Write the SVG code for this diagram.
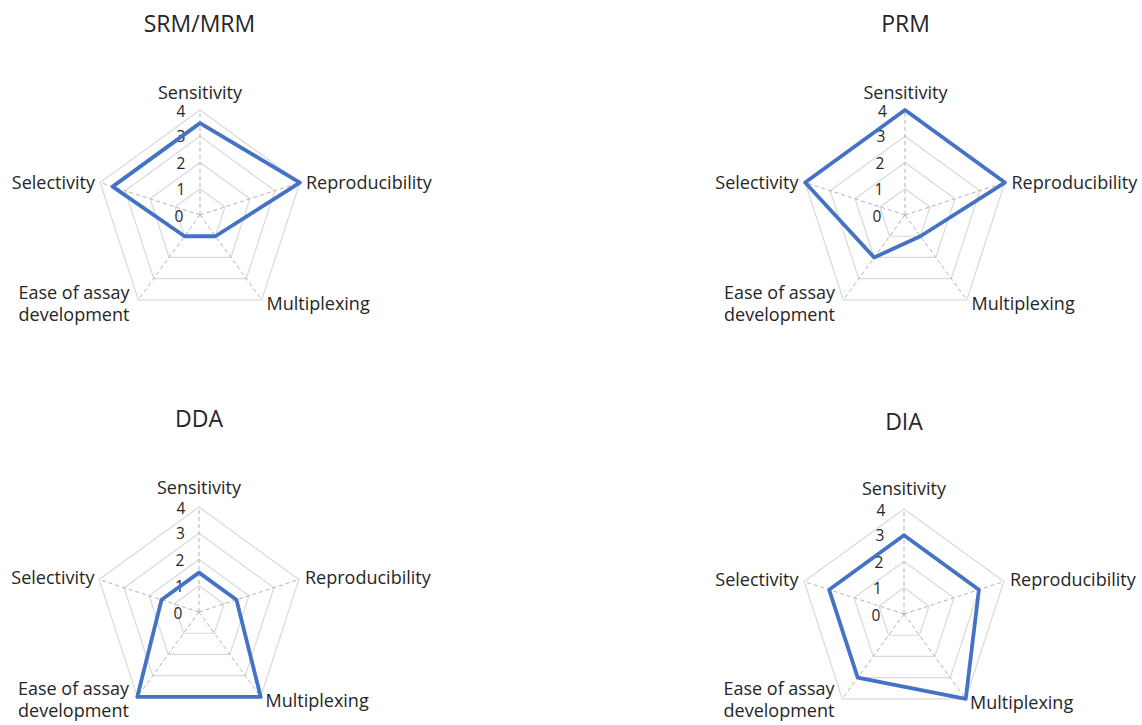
<svg xmlns="http://www.w3.org/2000/svg" xmlns:xlink="http://www.w3.org/1999/xlink" width="1142" height="725" viewBox="0 0 1142 725">
<style>
text { font-family: "Open Sans", "Liberation Sans", sans-serif; fill: #262626; }
.title { font-size: 23px; text-anchor: middle; }
.lab { font-size: 18px; }
.mid { text-anchor: middle; }
.end { text-anchor: end; }
.tick { font-size: 15.5px; text-anchor: middle; }
.ring { fill: none; stroke: #d9d9d9; stroke-width: 1.2; }
.spoke { fill: none; stroke: #b3b3b3; stroke-width: 1; stroke-dasharray: 4 3; }
.data { fill: none; stroke: #4472C4; stroke-width: 3.8; stroke-linejoin: round; }
</style>
<defs>
<g id="grid">
<polygon class="ring" points="0,-105 99.86,-32.45 61.72,84.95 -61.72,84.95 -99.86,-32.45"/>
<polygon class="ring" points="0,-78.75 74.9,-24.33 46.29,63.71 -46.29,63.71 -74.9,-24.33"/>
<polygon class="ring" points="0,-52.5 49.93,-16.22 30.86,42.47 -30.86,42.47 -49.93,-16.22"/>
<polygon class="ring" points="0,-26.25 24.97,-8.11 15.43,21.24 -15.43,21.24 -24.97,-8.11"/>
<path class="spoke" d="M0,0V-105M0,0L99.86,-32.45M0,0L61.72,84.95M0,0L-61.72,84.95M0,0L-99.86,-32.45"/>
</g>
</defs>
<rect width="1142" height="725" fill="#ffffff"/>

<g id="chart-srm-mrm">
<text class="title" x="199.5" y="31.7">SRM/MRM</text>
<use xlink:href="#grid" href="#grid" x="200" y="215"/>
<g class="ticks">
<text class="tick" x="181" y="116.5">4</text>
<text class="tick" x="181" y="142.3">3</text>
<text class="tick" x="181" y="168.5">2</text>
<text class="tick" x="181" y="194.8">1</text>
<text class="tick" x="179" y="221.5">0</text>
</g>
<polygon class="data" points="200,123.1 299.86,182.55 215.43,236.24 184.57,236.24 112.62,186.61"/>
<text class="lab mid" x="200" y="99">Sensitivity</text>
<text class="lab" x="306" y="188.5">Reproducibility</text>
<text class="lab end" x="95" y="188.5">Selectivity</text>
<text class="lab" x="266.5" y="310">Multiplexing</text>
<text class="lab mid" x="74" y="298.5">Ease of assay</text>
<text class="lab mid" x="74" y="320.5">development</text>
</g>

<g id="chart-prm">
<text class="title" x="905.5" y="31.7">PRM</text>
<use xlink:href="#grid" href="#grid" x="905" y="215"/>
<g class="ticks">
<text class="tick" x="882.5" y="116.5">4</text>
<text class="tick" x="881" y="142.3">3</text>
<text class="tick" x="880" y="168.5">2</text>
<text class="tick" x="879" y="194.8">1</text>
<text class="tick" x="877" y="221.5">0</text>
</g>
<polygon class="data" points="905,110 1004.86,182.55 920.43,236.24 874.14,257.47 805.14,182.55"/>
<text class="lab mid" x="905.5" y="99">Sensitivity</text>
<text class="lab" x="1011.5" y="188.5">Reproducibility</text>
<text class="lab end" x="798.5" y="188.5">Selectivity</text>
<text class="lab" x="971.5" y="310">Multiplexing</text>
<text class="lab mid" x="779.5" y="298.5">Ease of assay</text>
<text class="lab mid" x="779.5" y="320.5">development</text>
</g>

<g id="chart-dda">
<text class="title" x="199" y="427.3">DDA</text>
<use xlink:href="#grid" href="#grid" x="199" y="612"/>
<g class="ticks">
<text class="tick" x="181" y="513.5">4</text>
<text class="tick" x="180.5" y="539.3">3</text>
<text class="tick" x="180" y="565.5">2</text>
<text class="tick" x="179.5" y="591.8">1</text>
<text class="tick" x="178" y="618.5">0</text>
</g>
<polygon class="data" points="199,572.63 236.45,599.83 260.72,696.95 137.28,696.95 161.55,599.83"/>
<text class="lab mid" x="199" y="494">Sensitivity</text>
<text class="lab" x="305" y="584">Reproducibility</text>
<text class="lab end" x="94.5" y="584">Selectivity</text>
<text class="lab" x="265.5" y="706.5">Multiplexing</text>
<text class="lab mid" x="73.5" y="695">Ease of assay</text>
<text class="lab mid" x="73.5" y="716.5">development</text>
</g>

<g id="chart-dia">
<text class="title" x="904" y="430">DIA</text>
<use xlink:href="#grid" href="#grid" x="904" y="614"/>
<g class="ticks">
<text class="tick" x="881" y="515.5">4</text>
<text class="tick" x="880" y="541.3">3</text>
<text class="tick" x="879" y="567.5">2</text>
<text class="tick" x="877.5" y="593.8">1</text>
<text class="tick" x="876" y="620.5">0</text>
</g>
<polygon class="data" points="904,535.25 978.9,589.67 965.72,698.95 857.71,677.71 829.1,589.67"/>
<text class="lab mid" x="904" y="494.5">Sensitivity</text>
<text class="lab" x="1010" y="586">Reproducibility</text>
<text class="lab end" x="798.5" y="586">Selectivity</text>
<text class="lab" x="970" y="708.5">Multiplexing</text>
<text class="lab mid" x="779" y="695">Ease of assay</text>
<text class="lab mid" x="779" y="716.5">development</text>
</g>
</svg>
